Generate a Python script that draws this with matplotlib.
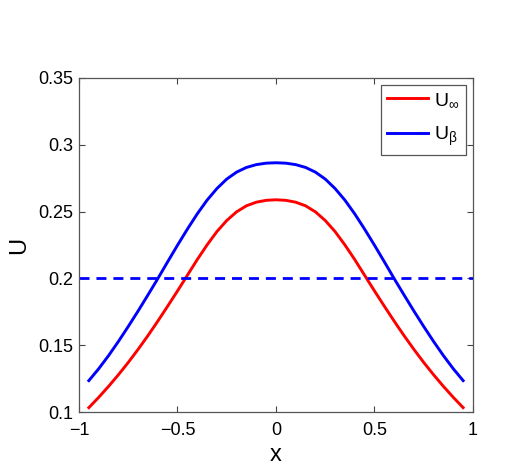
import numpy as np
import matplotlib
matplotlib.use('Agg')
import matplotlib.pyplot as plt

plt.rcParams['font.family'] = ['Liberation Sans', 'DejaVu Sans']
plt.rcParams['mathtext.fontset'] = 'custom'
plt.rcParams['mathtext.rm'] = 'Liberation Sans'
plt.rcParams['mathtext.it'] = 'Liberation Sans'

# values
x = [-0.95, -0.90, -0.85, -0.80, -0.75, -0.70, -0.65, -0.60, -0.55, -0.50,
     -0.45, -0.40, -0.35, -0.30, -0.25, -0.20, -0.15, -0.10, -0.05, 0.0,
     0.05, 0.10, 0.15, 0.20, 0.25, 0.30, 0.35, 0.40, 0.45, 0.50,
     0.55, 0.60, 0.65, 0.70, 0.75, 0.80, 0.85, 0.90, 0.95]
u_inf = [0.1033, 0.1110, 0.1192, 0.1279, 0.1371, 0.1469, 0.1572, 0.1680, 0.1792, 0.1906,
         0.2023, 0.2140, 0.2250, 0.2350, 0.2433, 0.2498, 0.2543, 0.2570, 0.2584, 0.2588,
         0.2584, 0.2570, 0.2543, 0.2498, 0.2433, 0.2350, 0.2250, 0.2140, 0.2023, 0.1906,
         0.1792, 0.1680, 0.1572, 0.1469, 0.1371, 0.1279, 0.1192, 0.1110, 0.1033]
u_beta = [0.1235, 0.1324, 0.1422, 0.1528, 0.1640, 0.1756, 0.1876, 0.1998, 0.2124, 0.2248,
          0.2368, 0.2482, 0.2585, 0.2672, 0.2743, 0.2795, 0.2830, 0.2851, 0.2862, 0.2865,
          0.2862, 0.2851, 0.2830, 0.2795, 0.2743, 0.2672, 0.2585, 0.2482, 0.2368, 0.2248,
          0.2124, 0.1998, 0.1876, 0.1756, 0.1640, 0.1528, 0.1422, 0.1324, 0.1235]
u_level = 0.2
xlim = [-1, 1]

fig = plt.figure(figsize=(5.13, 4.72), dpi=100)
ax = fig.add_axes([0.154, 0.127, 0.768, 0.708])

ax.plot(x, u_inf, color='#ff0000', lw=2.1, label=r'$\mathrm{U}_{\infty}$')
ax.plot(x, u_beta, color='#0000ff', lw=2.1, label=r'$\mathrm{U}_{\beta}$')
ax.plot(xlim, [u_level, u_level], color='#0000ff', lw=2, dashes=(3.6, 2.5))

ax.set_xlim(xlim)
ax.set_ylim(0.1, 0.35)
ax.set_xticks([-1, -0.5, 0, 0.5, 1])
ax.set_xticklabels(['\u22121', '\u22120.5', '0', '0.5', '1'])
ax.set_yticks([0.1, 0.15, 0.2, 0.25, 0.3, 0.35])
ax.set_yticklabels(['0.1', '0.15', '0.2', '0.25', '0.3', '0.35'])
ax.tick_params(direction='in', top=True, right=True, length=4, width=0.8,
               labelsize=13, color='#444444')
ax.tick_params(axis='x', pad=7.5)
ax.tick_params(axis='y', pad=4)
for s in ax.spines.values():
    s.set_color('#555555')
    s.set_linewidth(0.9)

ax.set_xlabel('x', fontsize=17, labelpad=3)
ax.set_ylabel('U', fontsize=17, labelpad=6)

leg = ax.legend(loc='upper right', fontsize=14, fancybox=False, framealpha=1,
                edgecolor='#555555', handlelength=2.1, handletextpad=0.3,
                borderaxespad=0.35, labelspacing=0.8, borderpad=0.35)
leg.get_frame().set_linewidth(0.9)

fig.savefig('out.png', dpi=100)
